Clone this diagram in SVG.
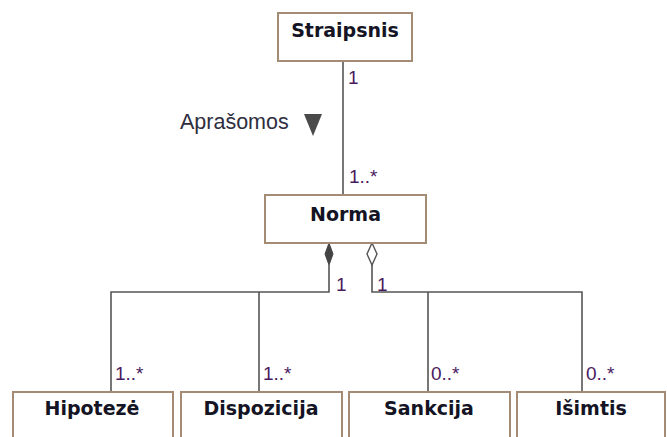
<svg xmlns="http://www.w3.org/2000/svg" width="667" height="437" viewBox="0 0 667 437">
<style>
.box{fill:#ffffff;stroke:#a48c74;stroke-width:2}
.title{font-family:"DejaVu Sans",Verdana,sans-serif;font-weight:bold;font-size:19px;fill:#141424;text-anchor:middle}
.lbl{font-family:"Liberation Sans",Arial,sans-serif;font-size:19px;fill:#4a1a5e}
.name{font-family:"Liberation Sans",Arial,sans-serif;font-size:21.5px;fill:#2e2e3e}
.line{fill:none;stroke:#555555;stroke-width:1.6}
</style>
<rect width="667" height="437" fill="#ffffff"/>
<g id="connectors">
<path class="line" d="M343,61 V195"/>
<path class="line" d="M329,265 V292 H111 V392 M259,292 V392"/>
<path class="line" d="M372,265 V292 H582 V392 M428,292 V392"/>
<path d="M329,243 L333,254 L329,265 L325,254 Z" fill="#444444" stroke="#444444" stroke-width="1"/>
<path d="M372,243 L377,254 L372,265 L367,254 Z" fill="#ffffff" stroke="#555555" stroke-width="1.4"/>
<polygon points="304,114 322,114 313,136" fill="#4a4a4a"/>
<text class="name" x="180" y="129">Aprašomos</text>
<text class="lbl" x="348" y="84">1</text>
<text class="lbl" x="349" y="183">1..*</text>
<text class="lbl" x="336" y="291">1</text>
<text class="lbl" x="377" y="291">1</text>
<text class="lbl" x="115" y="380">1..*</text>
<text class="lbl" x="263" y="380">1..*</text>
<text class="lbl" x="431" y="380">0..*</text>
<text class="lbl" x="586" y="380">0..*</text>
</g>
<g id="straipsnis">
<rect class="box" x="278" y="13" width="134" height="48"/>
<text class="title" x="345" y="37">Straipsnis</text>
</g>
<g id="norma">
<rect class="box" x="265" y="195" width="161" height="48"/>
<text class="title" x="345.5" y="221">Norma</text>
</g>
<g id="hipoteze">
<rect class="box" x="13" y="392" width="160" height="50"/>
<text class="title" x="92" y="415">Hipotezė</text>
</g>
<g id="dispozicija">
<rect class="box" x="181" y="392" width="161" height="50"/>
<text class="title" x="261" y="415">Dispozicija</text>
</g>
<g id="sankcija">
<rect class="box" x="349" y="392" width="161" height="50"/>
<text class="title" x="429" y="415">Sankcija</text>
</g>
<g id="isimtis">
<rect class="box" x="517" y="392" width="148" height="50"/>
<text class="title" x="591" y="415">Išimtis</text>
</g>
</svg>
